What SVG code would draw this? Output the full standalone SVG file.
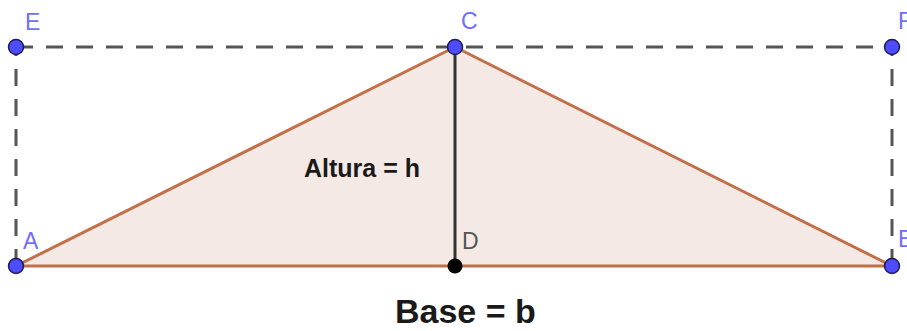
<svg xmlns="http://www.w3.org/2000/svg" width="907" height="331" viewBox="0 0 907 331">
<style>
.dash{stroke:#555;stroke-width:3;stroke-dasharray:17 13;fill:none}
.edge{stroke:#c27049;stroke-width:3;fill:none;stroke-linecap:round}
.alt{stroke:#333;stroke-width:3}
.pt{fill:#4d4dff;stroke:#1c1c55;stroke-width:1.5}
.lbl{font-family:"Liberation Sans",Arial,sans-serif;font-size:23px;fill:#6f6fff}
.txt{font-family:"Liberation Sans",Arial,sans-serif;font-weight:bold;fill:#1a1a1a}
</style>
<rect width="907" height="331" fill="#ffffff"/>
<polygon id="triangle" points="16,266 892,266 455,47" fill="#f4e9e4"/>
<g id="connectors">
<line class="dash" x1="16" y1="47" x2="892" y2="47"/>
<line class="dash" x1="16" y1="266" x2="16" y2="47"/>
<line class="dash" x1="892" y1="266" x2="892" y2="47"/>
<line class="edge" x1="16" y1="266" x2="892" y2="266"/>
<line class="edge" x1="16" y1="266" x2="455" y2="47"/>
<line class="edge" x1="892" y1="266" x2="455" y2="47"/>
<line class="alt" x1="455" y1="47" x2="455" y2="266"/>
</g>
<g id="E"><circle class="pt" cx="16" cy="47" r="7.5"/><text class="lbl" x="25" y="30">E</text></g>
<g id="C"><circle class="pt" cx="455" cy="47" r="7.5"/><text class="lbl" x="461" y="29">C</text></g>
<g id="F"><circle class="pt" cx="892" cy="47" r="7.5"/><text class="lbl" x="898" y="29">F</text></g>
<g id="A"><circle class="pt" cx="16" cy="266" r="7.5"/><text class="lbl" x="23" y="249">A</text></g>
<g id="B"><circle class="pt" cx="892" cy="266" r="7.5"/><text class="lbl" x="898" y="247">B</text></g>
<g id="D"><circle cx="455" cy="266" r="7.5" fill="#000"/><text class="lbl" x="462" y="249" style="fill:#555">D</text></g>
<g id="altura"><text class="txt" x="304" y="177" font-size="25">Altura = h</text></g>
<g id="base"><text class="txt" x="395" y="323" font-size="34">Base = b</text></g>
</svg>
